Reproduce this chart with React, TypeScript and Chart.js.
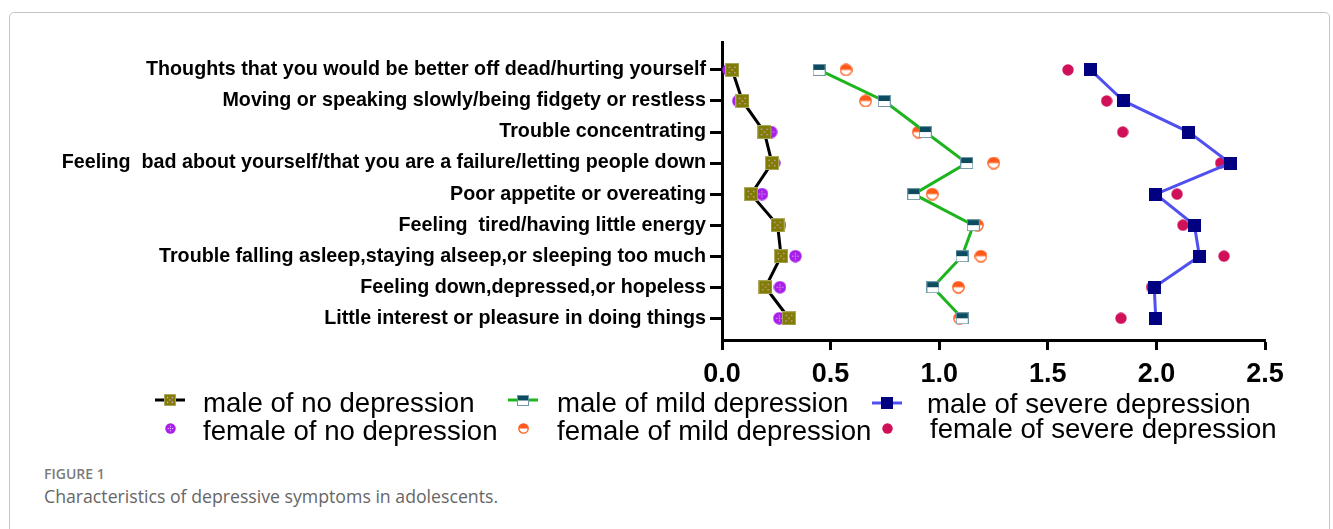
import React, { useEffect, useRef } from "react";
import { Chart, registerables } from "chart.js";

Chart.register(...registerables);

// ---------- data ----------
const categories = [
  "Thoughts that you would be better off dead/hurting yourself",
  "Moving or speaking slowly/being fidgety or restless",
  "Trouble concentrating",
  "Feeling  bad about yourself/that you are a failure/letting people down",
  "Poor appetite or overeating",
  "Feeling  tired/having little energy",
  "Trouble falling asleep,staying alseep,or sleeping too much",
  "Feeling down,depressed,or hopeless",
  "Little interest or pleasure in doing things",
];

const maleNo = [0.047, 0.094, 0.195, 0.23, 0.134, 0.256, 0.272, 0.2, 0.308];
const femaleNo = [0.03, 0.075, 0.226, 0.24, 0.184, 0.267, 0.338, 0.267, 0.264];
const maleMild = [0.447, 0.747, 0.936, 1.127, 0.883, 1.157, 1.105, 0.971, 1.106];
const femaleMild = [0.571, 0.661, 0.904, 1.251, 0.968, 1.176, 1.192, 1.088, 1.094];
const maleSevere = [1.697, 1.849, 2.149, 2.339, 1.997, 2.175, 2.198, 1.99, 1.997];
const femaleSevere = [1.593, 1.771, 1.845, 2.296, 2.095, 2.122, 2.311, 1.978, 1.837];

const xTicks = [0, 0.5, 1.0, 1.5, 2.0, 2.5];

const seriesNames = [
  "male of no depression",
  "female of no depression",
  "male of mild depression",
  "female of mild depression",
  "male of severe depression",
  "female of severe depression",
];

const FONT = "'Liberation Sans', Arial, Helvetica, sans-serif";

// ---------- marker images ----------
function mk(w: number, h: number, draw: (c: CanvasRenderingContext2D) => void) {
  const c = document.createElement("canvas");
  c.width = w;
  c.height = h;
  const ctx = c.getContext("2d")!;
  draw(ctx);
  return c;
}

function oliveSquare(s: number) {
  return mk(s, s, (ctx) => {
    ctx.fillStyle = "#7f7c00";
    ctx.fillRect(0, 0, s, s);
    ctx.strokeStyle = "#a9a760";
    ctx.lineWidth = 1;
    ctx.strokeRect(0.5, 0.5, s - 1, s - 1);
    ctx.fillStyle = "#e3a3e6";
    [[0.3, 0.3], [0.7, 0.3], [0.5, 0.5], [0.3, 0.7], [0.7, 0.7]].forEach(([a, b]) => {
      ctx.beginPath();
      ctx.arc(a * s, b * s, 0.8, 0, Math.PI * 2);
      ctx.fill();
    });
  });
}

function purpleCircle(s: number) {
  return mk(s, s, (ctx) => {
    ctx.fillStyle = "#a61ee8";
    ctx.beginPath();
    ctx.arc(s / 2, s / 2, s / 2 - 0.3, 0, Math.PI * 2);
    ctx.fill();
    ctx.fillStyle = "#e4a8f4";
    [[0.5, 0.3], [0.3, 0.5], [0.7, 0.5], [0.5, 0.7], [0.5, 0.5]].forEach(([a, b]) => {
      ctx.beginPath();
      ctx.arc(a * s, b * s, 0.75, 0, Math.PI * 2);
      ctx.fill();
    });
  });
}

function halfSquare(w: number, h: number) {
  return mk(w, h, (ctx) => {
    ctx.fillStyle = "#ffffff";
    ctx.fillRect(0, 0, w, h);
    ctx.fillStyle = "#0d4c60";
    ctx.fillRect(0, 0, w, h / 2);
    ctx.strokeStyle = "#6f98a6";
    ctx.lineWidth = 1;
    ctx.strokeRect(0.5, 0.5, w - 1, h - 1);
  });
}

function halfCircle(s: number) {
  return mk(s, s, (ctx) => {
    const r = s / 2 - 0.8;
    ctx.fillStyle = "#ffffff";
    ctx.beginPath();
    ctx.arc(s / 2, s / 2, r, 0, Math.PI * 2);
    ctx.fill();
    ctx.fillStyle = "#ff5a1a";
    ctx.beginPath();
    ctx.arc(s / 2, s / 2, r, Math.PI, 0);
    ctx.closePath();
    ctx.fill();
    ctx.strokeStyle = "#ff5a1a";
    ctx.lineWidth = 1.3;
    ctx.beginPath();
    ctx.arc(s / 2, s / 2, r, 0, Math.PI * 2);
    ctx.stroke();
  });
}

function solidSquare(s: number, color: string) {
  return mk(s, s, (ctx) => {
    ctx.fillStyle = color;
    ctx.fillRect(0, 0, s, s);
  });
}

function solidCircle(s: number, color: string) {
  return mk(s, s, (ctx) => {
    ctx.fillStyle = color;
    ctx.beginPath();
    ctx.arc(s / 2, s / 2, s / 2 - 0.3, 0, Math.PI * 2);
    ctx.fill();
  });
}

const pts = (vals: number[]) => vals.map((v, i) => ({ x: v, y: i + 1 }));

export default function App() {
  const ref = useRef<HTMLCanvasElement | null>(null);

  useEffect(() => {
    if (!ref.current) return;

    const imgs = {
      mNo: oliveSquare(14),
      fNo: purpleCircle(13),
      mMild: halfSquare(13, 12),
      fMild: halfCircle(13),
      mSev: solidSquare(13, "#000080"),
      fSev: solidCircle(12, "#d1105a"),
    };
    const legImgs = {
      mNo: oliveSquare(12),
      fNo: purpleCircle(11),
      mMild: halfSquare(12, 11),
      fMild: halfCircle(11),
      mSev: solidSquare(12, "#000080"),
      fSev: solidCircle(11, "#d1105a"),
    };

    const legendEntries = [
      { text: seriesNames[0], img: legImgs.mNo, line: "#000000", lx1: 145, lx2: 175, mx: 160, my: 387, tx: 193, ty: 399 },
      { text: seriesNames[1], img: legImgs.fNo, line: null, lx1: 0, lx2: 0, mx: 160, my: 415, tx: 193, ty: 427 },
      { text: seriesNames[2], img: legImgs.mMild, line: "#1db41d", lx1: 498, lx2: 528, mx: 513, my: 387, tx: 547, ty: 399 },
      { text: seriesNames[3], img: legImgs.fMild, line: null, lx1: 0, lx2: 0, mx: 513, my: 415, tx: 547, ty: 427 },
      { text: seriesNames[4], img: legImgs.mSev, line: "#5050f0", lx1: 862, lx2: 892, mx: 877, my: 390, tx: 917, ty: 400 },
      { text: seriesNames[5], img: legImgs.fSev, line: null, lx1: 0, lx2: 0, mx: 877, my: 415, tx: 920, ty: 425 },
    ];

    const legendPlugin = {
      id: "customLegend",
      afterDraw(chart: any) {
        const ctx: CanvasRenderingContext2D = chart.ctx;
        ctx.save();
        legendEntries.forEach((e) => {
          if (e.line) {
            ctx.strokeStyle = e.line;
            ctx.lineWidth = 3;
            ctx.beginPath();
            ctx.moveTo(e.lx1, e.my);
            ctx.lineTo(e.lx2, e.my);
            ctx.stroke();
          }
          ctx.drawImage(e.img, Math.round(e.mx - e.img.width / 2), Math.round(e.my - e.img.height / 2));
          ctx.fillStyle = "#000000";
          ctx.font = `27.6px ${FONT}`;
          ctx.textBaseline = "alphabetic";
          ctx.textAlign = "left";
          ctx.fillText(e.text, e.tx, e.ty);
        });
        ctx.restore();
      },
    };

    const chart = new Chart(ref.current, {
      type: "scatter",
      data: {
        datasets: [
          { label: seriesNames[0], data: pts(maleNo), showLine: true, borderColor: "#000000", borderWidth: 3, pointStyle: imgs.mNo as any, order: 0, clip: false as any },
          { label: seriesNames[1], data: pts(femaleNo), showLine: false, pointStyle: imgs.fNo as any, order: 1, clip: false as any },
          { label: seriesNames[2], data: pts(maleMild), showLine: true, borderColor: "#1db41d", borderWidth: 3, pointStyle: imgs.mMild as any, order: 0, clip: false as any },
          { label: seriesNames[3], data: pts(femaleMild), showLine: false, pointStyle: imgs.fMild as any, order: 1, clip: false as any },
          { label: seriesNames[4], data: pts(maleSevere), showLine: true, borderColor: "#5050f0", borderWidth: 3, pointStyle: imgs.mSev as any, order: 0, clip: false as any },
          { label: seriesNames[5], data: pts(femaleSevere), showLine: false, pointStyle: imgs.fSev as any, order: 1, clip: false as any },
        ],
      },
      options: {
        responsive: false,
        animation: false,
        devicePixelRatio: 1,
        layout: { padding: { left: 0, right: 65, top: 29, bottom: 75 } },
        plugins: { legend: { display: false }, tooltip: { enabled: false } },
        elements: { line: { tension: 0 }, point: { radius: 7 } },
        scales: {
          x: {
            type: "linear",
            position: "bottom",
            min: 0,
            max: 2.5,
            afterBuildTicks: (s: any) => {
              s.ticks = xTicks.map((v) => ({ value: v }));
            },
            afterFit: (s: any) => {
              s.height = 45;
            },
            ticks: {
              color: "#000000",
              font: { family: FONT, size: 27, weight: "bold" },
              padding: 8,
              maxRotation: 0,
              callback: (v: any) => Number(v).toFixed(1),
            },
            grid: { drawOnChartArea: false, tickLength: 10, tickWidth: 3, tickColor: "#000000" },
            border: { display: true, width: 3, color: "#000000" },
          },
          y: {
            type: "linear",
            reverse: true,
            min: 0.1,
            max: 9.7,
            afterBuildTicks: (s: any) => {
              s.ticks = categories.map((_, i) => ({ value: i + 1 }));
            },
            afterFit: (s: any) => {
              s.width = 712;
            },
            ticks: {
              color: "#000000",
              font: { family: FONT, size: 19.7, weight: "bold" },
              padding: 4,
              autoSkip: false,
              callback: (v: any) => categories[Number(v) - 1] ?? "",
            },
            grid: { drawOnChartArea: false, tickLength: 12, tickWidth: 3, tickColor: "#000000" },
            border: { display: true, width: 3, color: "#000000" },
          },
        },
      },
      plugins: [legendPlugin],
    } as any);

    return () => chart.destroy();
  }, []);

  return (
    <div style={{ position: "absolute", left: 0, top: 0, width: 1333, height: 529, overflow: "hidden", background: "#fff" }}>
      <div
        style={{
          position: "absolute",
          left: 9,
          top: 12,
          width: 1321,
          height: 600,
          border: "1px solid #c4c4c4",
          borderRadius: 5,
          boxSizing: "border-box",
        }}
      />
      <canvas
        ref={ref}
        width={1320}
        height={447}
        style={{ position: "absolute", left: 10, top: 13, width: 1320, height: 447 }}
      />
      <div
        style={{
          position: "absolute",
          left: 44,
          top: 466,
          fontFamily: "'Open Sans', sans-serif",
          fontSize: 14,
          fontWeight: 600,
          color: "#7b7b7b",
          lineHeight: "16px",
          whiteSpace: "nowrap",
        }}
      >
        FIGURE 1
      </div>
      <div
        style={{
          position: "absolute",
          left: 44,
          top: 485,
          fontFamily: "'Open Sans', sans-serif",
          fontSize: 17.7,
          color: "#666666",
          lineHeight: "22px",
          whiteSpace: "nowrap",
        }}
      >
        Characteristics of depressive symptoms in adolescents.
      </div>
    </div>
  );
}
